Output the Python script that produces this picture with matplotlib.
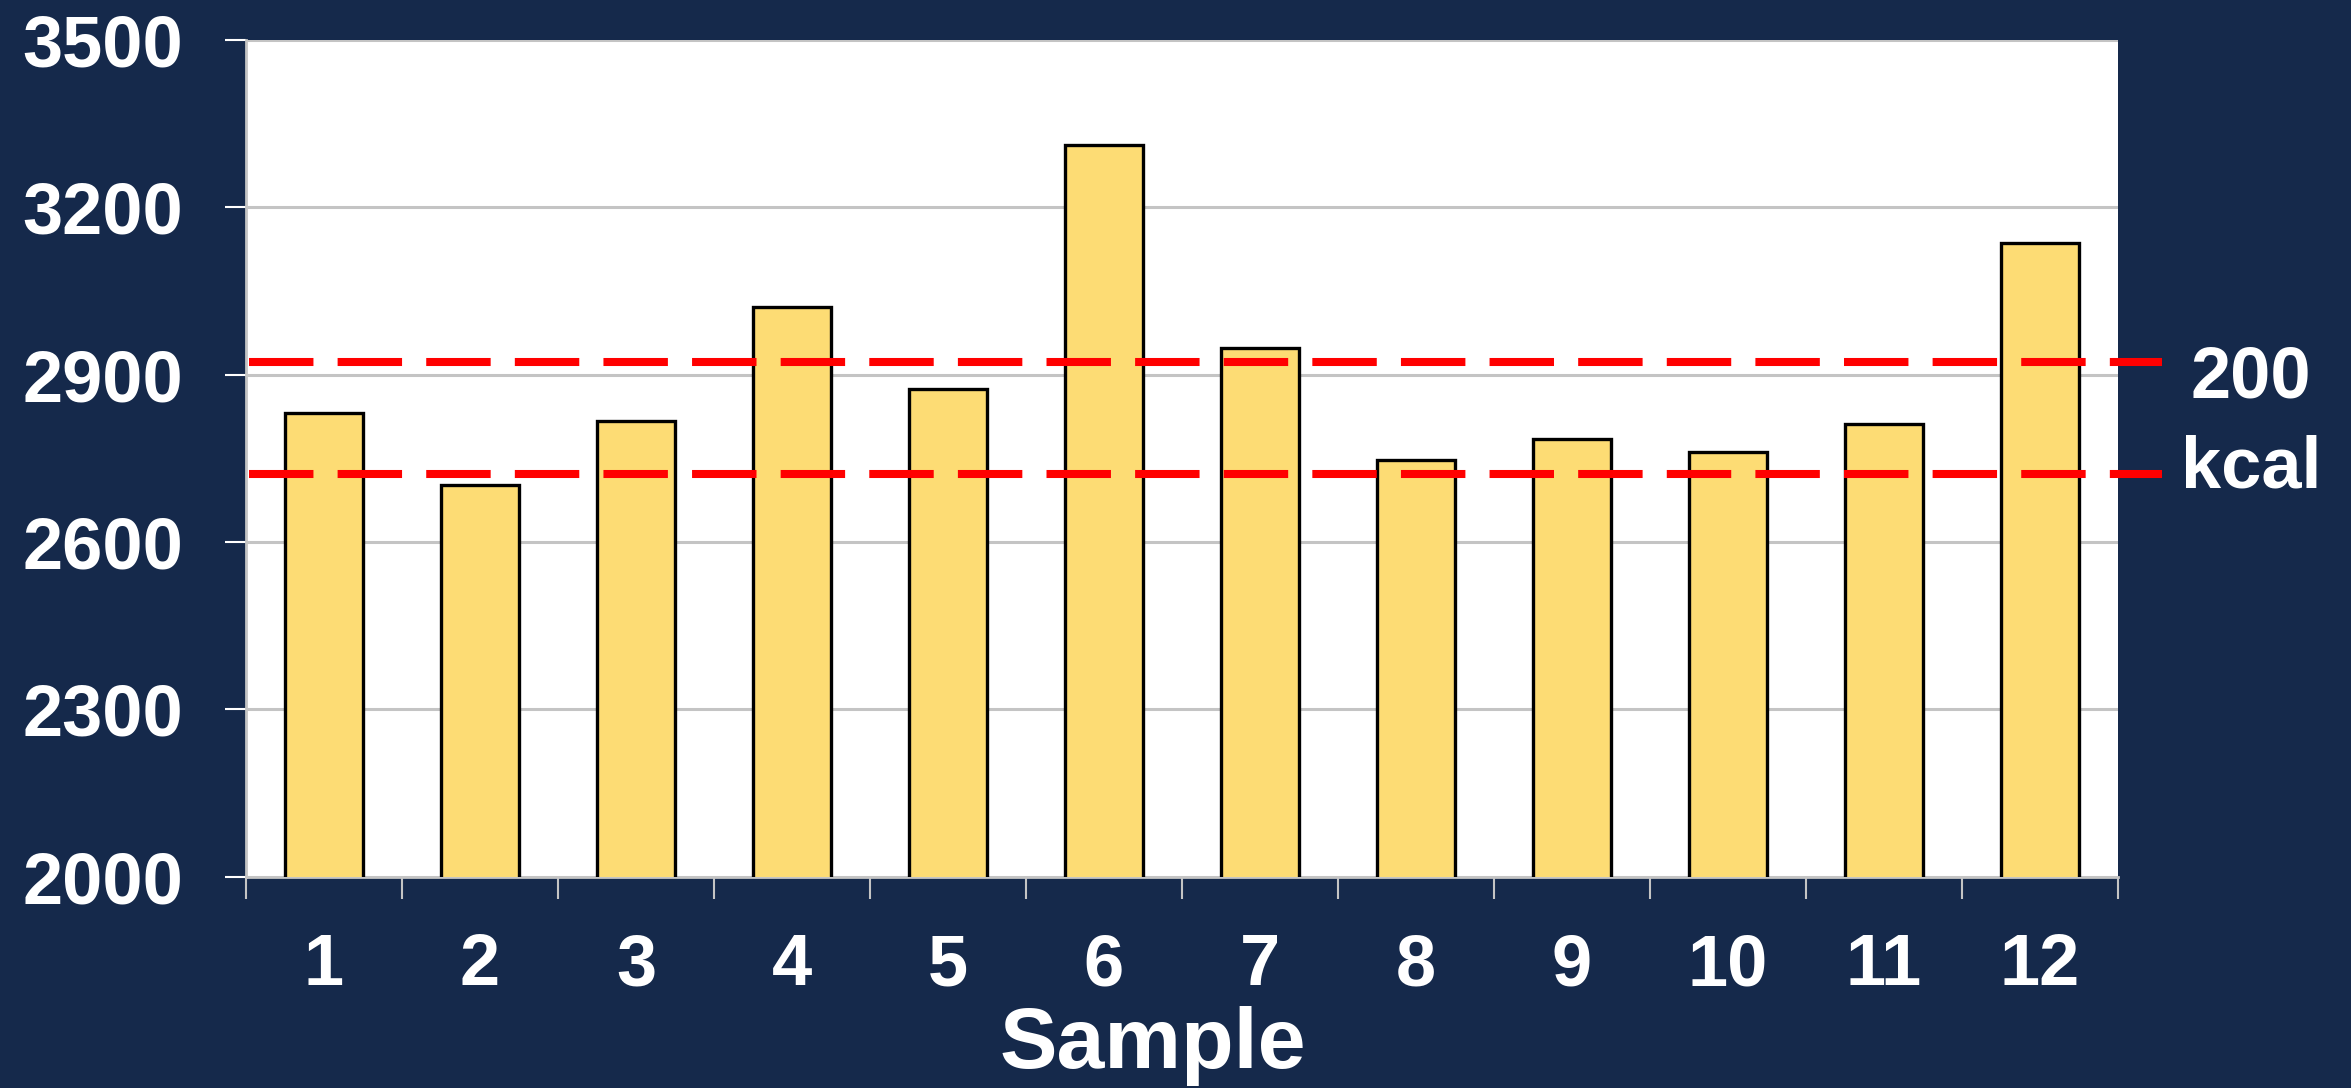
import matplotlib
matplotlib.use("Agg")
import matplotlib.pyplot as plt
import numpy as np

# Daily energy intake per sample (kcal)
samples = ["1", "2", "3", "4", "5", "6", "7", "8", "9", "10", "11", "12"]
intake = [2832, 2702, 2817, 3021, 2875, 3312, 2947, 2747, 2784, 2762, 2811, 3137]

# Reference band, 200 kcal wide
band_levels = [2722, 2922]
band_label = ["200", "kcal"]

y_ticks = [2000, 2300, 2600, 2900, 3200, 3500]

navy = "#15294b"
bar_color = "#fddc74"
grid_gray = "#c4c4c4"

plt.rcParams["font.family"] = ["Liberation Sans", "DejaVu Sans"]
plt.rcParams["font.weight"] = "bold"

fig = plt.figure(figsize=(23.51, 10.88), dpi=100, facecolor=navy)
ax = fig.add_axes([0.1046, 0.1942, 0.9009 - 0.1046, 0.9632 - 0.1942])
ax.set_facecolor("white")

x = np.arange(1, len(samples) + 1)
ax.bar(x, intake, width=0.5, color=bar_color, edgecolor="black",
       linewidth=2.4, zorder=3)

ax.set_xlim(0.5, len(samples) + 0.5)
ax.set_ylim(y_ticks[0], y_ticks[-1])

# Horizontal gridlines behind the bars
ax.set_yticks(y_ticks)
ax.yaxis.grid(True, color=grid_gray, linewidth=2.2, zorder=0)
ax.set_axisbelow(True)

# Dashed reference lines, running past the right edge of the plot
for lvl in band_levels:
    ax.plot([0.52, len(samples) + 0.78], [lvl, lvl], color="#ff0000",
            linewidth=5.8, linestyle=(0, (8, 3)), solid_capstyle="butt",
            dash_capstyle="butt", clip_on=False, zorder=5)

fig.text(0.9575, 0.6342, band_label[0], color="white", fontsize=52,
         fontweight="bold", ha="center", va="baseline")
fig.text(0.9575, 0.5515, band_label[1], color="white", fontsize=52,
         fontweight="bold", ha="center", va="baseline")

# Spines
for side in ["top", "right"]:
    ax.spines[side].set_visible(False)
for side in ["left", "bottom"]:
    ax.spines[side].set_color(grid_gray)
    ax.spines[side].set_linewidth(2)

# Category labels centered, tick marks at the category boundaries
ax.set_xticks(x)
ax.set_xticklabels(samples)
ax.set_xticks(np.arange(0.5, len(samples) + 1.0, 1.0), minor=True)
ax.tick_params(axis="x", which="major", length=0, pad=40,
               labelsize=52, labelcolor="white")
ax.tick_params(axis="x", which="minor", length=16, width=1.5,
               color=grid_gray, direction="out")
ax.tick_params(axis="y", which="major", length=15, width=1.5,
               color="white", direction="out", pad=30,
               labelsize=52, labelcolor="white")
for lbl in ax.get_xticklabels() + ax.get_yticklabels():
    lbl.set_fontweight("bold")

fig.text(0.4904, 0.018, "Sample", color="white", fontsize=62,
         fontweight="bold", ha="center", va="baseline")

fig.savefig("out.png", dpi=100, facecolor=navy)
